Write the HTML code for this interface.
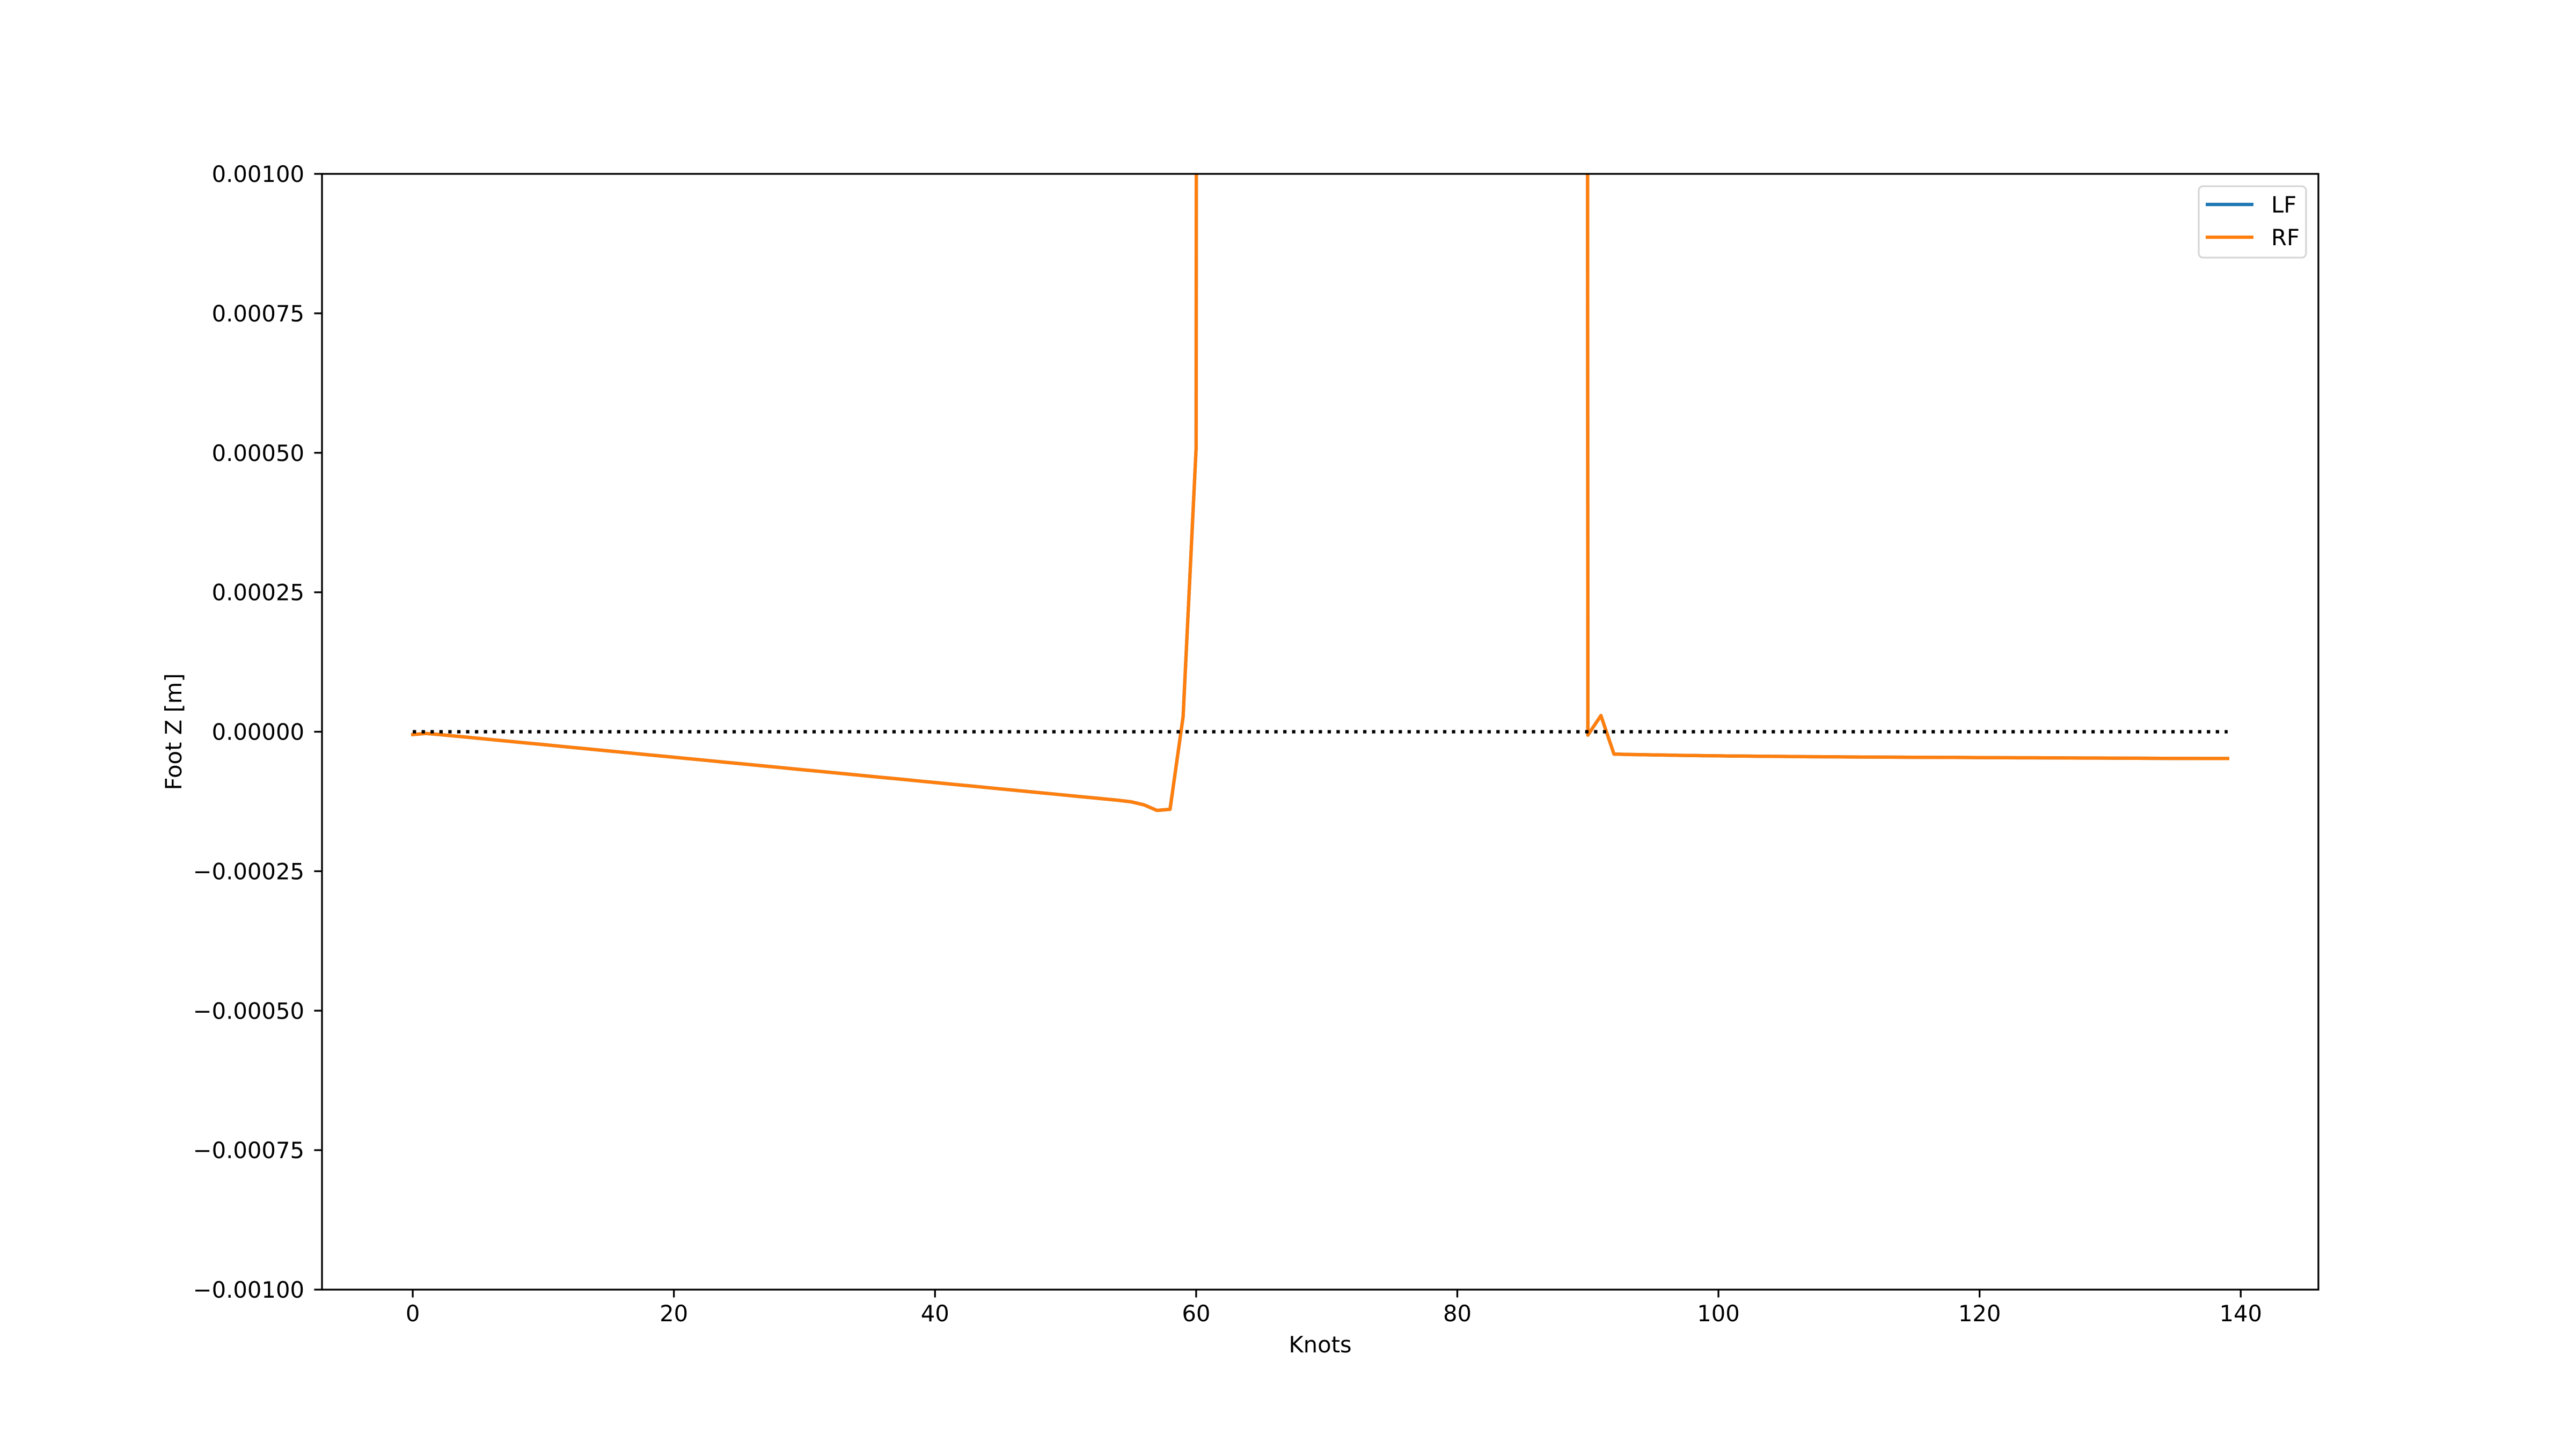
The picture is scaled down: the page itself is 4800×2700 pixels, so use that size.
<!DOCTYPE html>
<html><head><meta charset="utf-8"><style>
html,body{margin:0;padding:0;background:#fff;}
svg{display:block;font-family:"DejaVu Sans","Liberation Sans",sans-serif;}
</style></head><body>
<svg id="chart" width="4800" height="2700" viewBox="0 0 4800 2700" xmlns="http://www.w3.org/2000/svg">
<rect width="4800" height="2700" fill="#fff"/>
<defs><clipPath id="plotclip"><rect x="600" y="324" width="3720" height="2079"/></clipPath></defs>
<g id="grid-layer"></g>
<g id="series-layer" clip-path="url(#plotclip)"></g>
<rect x="600" y="324" width="3720" height="2079" fill="none" stroke="#000" stroke-width="3.3"/>
<g id="tick-layer"></g>
<text x="2460" y="2520" font-size="41.7" text-anchor="middle">Knots</text>
<text x="0" y="0" font-size="41.7" text-anchor="middle" transform="translate(338,1363.5) rotate(-90)">Foot Z [m]</text>
<g>
<rect x="4097" y="347" width="200" height="133" rx="8" fill="#fff" fill-opacity="0.8" stroke="#d6d6d6" stroke-width="3.3"/>
<g>
<line x1="4110" y1="381" x2="4199" y2="381" stroke="#1f77b4" stroke-width="6.25"/>
<text x="4232" y="396" font-size="41.7">LF</text></g>
<g>
<line x1="4110" y1="442" x2="4199" y2="442" stroke="#ff7f0e" stroke-width="6.25"/>
<text x="4232" y="457" font-size="41.7">RF</text></g>
</g>
</svg>
<script>
// values in micrometers (1e-6 m)
const rfMicro = [-5,-3,-4.9,-7.2,-9.4,-11.7,-14.0,-16.2,-18.5,-20.8,-23.0,-25.3,-27.6,-29.8,-32.1,-34.4,-36.6,-38.9,-41.2,-43.4,-45.7,-48.0,-50.2,-52.5,-54.8,-57.0,-59.3,-61.6,-63.8,-66.1,-68.4,-70.6,-72.9,-75.2,-77.4,-79.7,-82.0,-84.2,-86.5,-88.8,-91.0,-93.3,-95.6,-97.8,-100.1,-102.4,-104.6,-106.9,-109.2,-111.4,-113.7,-116.0,-118.2,-120.5,-122.8,-125.5,-131,-141,-139,27,510,
50000,50000,50000,50000,50000,50000,50000,50000,50000,50000,50000,50000,50000,50000,50000,50000,50000,50000,50000,50000,50000,50000,50000,50000,50000,50000,50000,50000,50000,
-6,29,-40,-40.6,-41.1,-41.5,-41.9,-42.3,-42.6,-42.9,-43.2,-43.5,-43.7,-43.9,-44.1,-44.3,-44.5,-44.7,-44.9,-45.0,-45.2,-45.3,-45.5,-45.6,-45.7,-45.8,-45.9,-46.0,-46.1,-46.2,-46.3,-46.4,-46.5,-46.6,-46.7,-46.8,-46.9,-47.0,-47.1,-47.2,-47.3,-47.4,-47.5,-47.6,-47.7,-47.8,-47.9,-48.0,-48.0,-48.0];
const lfMicro = rfMicro.slice();
const refLine = [0, 0];
const refRange = [0, 139];
const xTicks = [0,20,40,60,80,100,120,140];
const yTicks = [0.001,0.00075,0.0005,0.00025,0,-0.00025,-0.0005,-0.00075,-0.001];
const yTickLabels = ["0.00100","0.00075","0.00050","0.00025","0.00000","\u22120.00025","\u22120.00050","\u22120.00075","\u22120.00100"];

const NS="http://www.w3.org/2000/svg";
const L=600,R=4320,T=324,B=2403;
const xMin=-6.95,xMax=145.95,yMin=-0.001,yMax=0.001;
const xs=v=>L+(v-xMin)/(xMax-xMin)*(R-L);
const ys=v=>B-(v-yMin)/(yMax-yMin)*(B-T);
function mk(tag,attrs,parent){const e=document.createElementNS(NS,tag);for(const k in attrs)e.setAttribute(k,attrs[k]);parent.appendChild(e);return e;}
const series=document.getElementById('series-layer');
const ticks=document.getElementById('tick-layer');

function drawSeries(vals,color,name){
  const pts=vals.map((v,i)=>xs(i).toFixed(2)+','+ys(v*1e-6).toFixed(2)).join(' ');
  const p=mk('polyline',{points:pts,fill:'none',stroke:color,'stroke-width':6.25,'stroke-linejoin':'round','stroke-linecap':'square'},series);
  
  
}
drawSeries(lfMicro,'#1f77b4','lf-line');
drawSeries(rfMicro,'#ff7f0e','rf-line');
const zl=mk('line',{x1:xs(refRange[0]),x2:xs(refRange[1]),y1:ys(refLine[0]),y2:ys(refLine[1]),stroke:'#000','stroke-width':6.25,'stroke-dasharray':'6.25 10.3'},series);



xTicks.forEach(t=>{
  const x=xs(t);
  const tl=mk('line',{x1:x,x2:x,y1:B,y2:B+14.6,stroke:'#000','stroke-width':3.3},ticks);
  
  
  const tx=mk('text',{x:x,y:2462,'font-size':41.7,'text-anchor':'middle'},ticks);
  tx.textContent=String(t);
  
  
});
yTicks.forEach((t,i)=>{
  const y=ys(t);
  const tl=mk('line',{x1:L-14.6,x2:L,y1:y,y2:y,stroke:'#000','stroke-width':3.3},ticks);
  
  
  const tx=mk('text',{x:567,y:y+15,'font-size':41.7,'text-anchor':'end'},ticks);
  tx.textContent=yTickLabels[i];
  
  
});
</script>
</body></html>
